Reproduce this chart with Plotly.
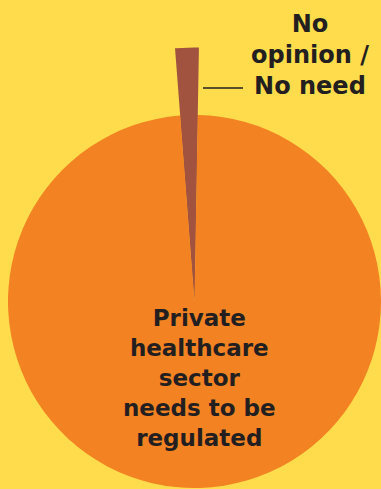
import math
import plotly.graph_objects as go

# ---- data ----
labels = ["No opinion / No need", "Private healthcare sector needs to be regulated"]
values = [1.5, 98.5]
label_text = ["No<br>opinion /<br>No need", "Private<br>healthcare<br>sector<br>needs to be<br>regulated"]

# ---- style / layout ----
W, H = 381, 489
BG = "#FEDC4C"
ORANGE = "#F38223"
BROWN = "#A1533F"
TEXT = "#231F20"
FONT = "DejaVu Sans, Arial, sans-serif"

cx, cy, r = 194.5, 301.5, 186.5   # pie centre / radius in pixels (y down)
r_out = 254                       # extended wedge radius
right_edge = 1.0                  # degrees clockwise from 12 o'clock of the small slice's right edge

frac = values[0] / sum(values)
span = 360 * frac
rotation = right_edge - span      # plotly: first slice spans [rotation, rotation+span] clockwise

fig = go.Figure()

# extended wedge for the small slice, computed from its share of the total
n = 30
xs, ys = [cx], [cy]
for i in range(n + 1):
    a = math.radians(rotation + span * i / n)
    xs.append(cx + r_out * math.sin(a))
    ys.append(cy - r_out * math.cos(a))
xs.append(cx)
ys.append(cy)
fig.add_trace(go.Scatter(x=xs, y=ys, mode="lines", fill="toself",
                         fillcolor=BROWN, line=dict(width=0, color=BROWN),
                         hoverinfo="skip", showlegend=False))

# main pie
fig.add_trace(go.Pie(
    labels=labels, values=values, sort=False, direction="counterclockwise",
    rotation=rotation, textinfo="none", hole=0,
    marker=dict(colors=[BROWN, ORANGE], line=dict(width=0)),
    domain=dict(x=[(cx - r) / W, min(1, (cx + r) / W)],
                y=[(H - (cy + r)) / H, (H - (cy - r)) / H]),
    showlegend=False,
))

fig.add_annotation(x=310, y=55, xref="x", yref="y", text=f"<b>{label_text[0]}</b>",
                   showarrow=False, xanchor="center", yanchor="middle",
                   font=dict(family=FONT, size=24, color=TEXT), align="center")
fig.add_annotation(x=199, y=378, xref="x", yref="y", text=f"<b>{label_text[1]}</b>",
                   showarrow=False, xanchor="center", yanchor="middle",
                   font=dict(family=FONT, size=23, color=TEXT), align="center")
fig.add_shape(type="line", xref="x", yref="y", x0=203, x1=243, y0=88, y1=88,
              line=dict(color=TEXT, width=1.5))

fig.update_layout(
    width=W, height=H, margin=dict(l=0, r=0, t=0, b=0),
    paper_bgcolor=BG, plot_bgcolor=BG,
    xaxis=dict(range=[0, W], visible=False, fixedrange=True),
    yaxis=dict(range=[H, 0], visible=False, fixedrange=True),
    showlegend=False,
)

fig.write_html("out.html")
